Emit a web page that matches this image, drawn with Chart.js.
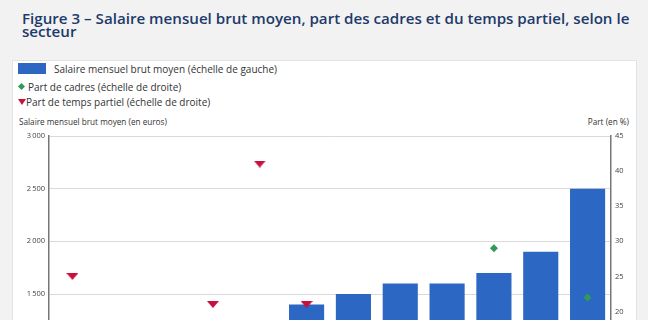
<!DOCTYPE html>
<html lang="fr">
<head>
<meta charset="utf-8">
<script src="https://cdn.jsdelivr.net/npm/chart.js@4"></script>
<style>
  html, body { margin: 0; padding: 0; }
  body {
    width: 648px; height: 320px; overflow: hidden; position: relative;
    background: #f2f2f2; font-family: "Open Sans", sans-serif; color: #333;
  }
  #title {
    position: absolute; left: 22px; top: 12px; width: 620px; margin: 0;
    font-size: 15.15px; font-weight: 600; line-height: 13px; color: #1e3a6b;
  }
  #panel {
    position: absolute; left: 12px; top: 60px; width: 623px; height: 600px;
    background: #fff; border: 1px solid #e3e3e3;
  }
  .leg { position: absolute; font-size: 10px; line-height: 12px; white-space: nowrap; }
  .axt { position: absolute; font-size: 8.2px; line-height: 10px; white-space: nowrap; color: #333; }
  #chartBox { position: absolute; left: 0; top: 120px; width: 648px; height: 400px; }
</style>
</head>
<body>
<h1 id="title">Figure 3 – Salaire mensuel brut moyen, part des cadres et du temps partiel, selon le secteur</h1>
<div id="panel"></div>

<div class="leg" style="left:18px;top:63px;width:28px;height:11px;background:#2c67c3"></div>
<div class="leg" style="left:54px;top:63px">Salaire mensuel brut moyen (échelle de gauche)</div>
<div class="leg" style="left:18.5px;top:84px;width:5px;height:5px;background:#2f9a59;transform:rotate(45deg)"></div>
<div class="leg" style="left:28px;top:81px">Part de cadres (échelle de droite)</div>
<div class="leg" style="left:18px;top:99px;width:0;height:0;border-left:4px solid transparent;border-right:4px solid transparent;border-top:6px solid #c8103f"></div>
<div class="leg" style="left:26px;top:96px">Part de temps partiel (échelle de droite)</div>

<div class="axt" style="left:19px;top:117px">Salaire mensuel brut moyen (en euros)</div>
<div class="axt" style="right:19px;top:117px">Part (en %)</div>

<div id="chartBox"><canvas id="chart"></canvas></div>

<script>
// Secteurs (libellés sous l'axe, hors cadre de la capture)
const sectors = [
  'Hébergement et restauration', 'Services aux ménages', 'Commerce de détail',
  'Action sociale', 'Enseignement', 'Santé', 'Transports',
  'Construction', 'Industrie', 'Commerce de gros', 'Services aux entreprises',
  'Finance et assurance'
];

// Salaire mensuel brut moyen (en euros) — échelle de gauche
const salaire = [1050, 1100, 1150, 1200, 1230, 1400, 1500, 1600, 1600, 1700, 1900, 2500];

// Part de cadres (en %) — échelle de droite
const partCadres = [3, 5, 4, 8, 6, 10, 12, 15, 14, 29, 17, 22];

// Part de temps partiel (en %) — échelle de droite
const partTempsPartiel = [25, 15, 12, 21, 41, 21, 17, 10, 14, 9, 12, 8];

// Graduations
const leftMax = 3000, leftStep = 500;
const rightMax = 45, rightStep = 5;

const BLUE = '#2c67c3';
const GREEN = '#2f9a59';
const RED = '#c8103f';
const FONT = '"Open Sans", sans-serif';

// flat down-pointing triangle marker
function makeTriangle() {
  const c = document.createElement('canvas');
  c.width = 12; c.height = 7;
  const g = c.getContext('2d');
  g.fillStyle = RED;
  g.beginPath();
  g.moveTo(0, 0);
  g.lineTo(12, 0);
  g.lineTo(6, 7);
  g.closePath();
  g.fill();
  return c;
}

function frNumber(v) {
  return String(v).replace(/\B(?=(\d{3})+(?!\d))/g, '\u202f');
}

const ctx = document.getElementById('chart').getContext('2d');
const chart = new Chart(ctx, {
  data: {
    labels: sectors,
    datasets: [
      {
        type: 'line',
        label: 'Part de cadres (échelle de droite)',
        data: partCadres,
        yAxisID: 'y1',
        showLine: false,
        pointStyle: 'rectRot',
        pointRadius: 4,
        pointBackgroundColor: GREEN,
        pointBorderColor: GREEN,
        pointBorderWidth: 0,
        order: 1,
      },
      {
        type: 'line',
        label: 'Part de temps partiel (échelle de droite)',
        data: partTempsPartiel,
        yAxisID: 'y1',
        showLine: false,
        pointStyle: makeTriangle(),
        order: 1,
      },
      {
        type: 'bar',
        label: 'Salaire mensuel brut moyen (échelle de gauche)',
        data: salaire,
        yAxisID: 'y',
        backgroundColor: BLUE,
        barPercentage: 0.75,
        categoryPercentage: 1,
        order: 2,
      },
    ],
  },
  options: {
    responsive: true,
    maintainAspectRatio: false,
    animation: false,
    layout: { padding: { top: 16, bottom: 8, left: 0, right: 0 } },
    plugins: {
      legend: { display: false },
      tooltip: { enabled: false },
    },
    scales: {
      x: {
        grid: { display: false },
        border: { color: '#777', width: 1 },
        ticks: { color: '#333', font: { family: FONT, size: 8 }, maxRotation: 0, autoSkip: false },
        afterFit: (s) => { s.height = 60; },
      },
      y: {
        position: 'left',
        min: 0,
        max: leftMax,
        ticks: {
          stepSize: leftStep,
          color: '#444',
          padding: 4,
          font: { family: FONT, size: 7.5 },
          callback: (v) => frNumber(v),
        },
        grid: { color: '#d9d9d9', drawTicks: false },
        border: { color: '#777', width: 1.5 },
        afterFit: (s) => { s.width = 49; },
      },
      y1: {
        position: 'right',
        min: 0,
        max: rightMax,
        ticks: {
          stepSize: rightStep,
          color: '#444',
          padding: 4,
          font: { family: FONT, size: 7.5 },
        },
        grid: { drawOnChartArea: false, drawTicks: false },
        border: { color: '#777', width: 1.5 },
        afterFit: (s) => { s.width = 37; },
      },
    },
  },
});
</script>
</body>
</html>
